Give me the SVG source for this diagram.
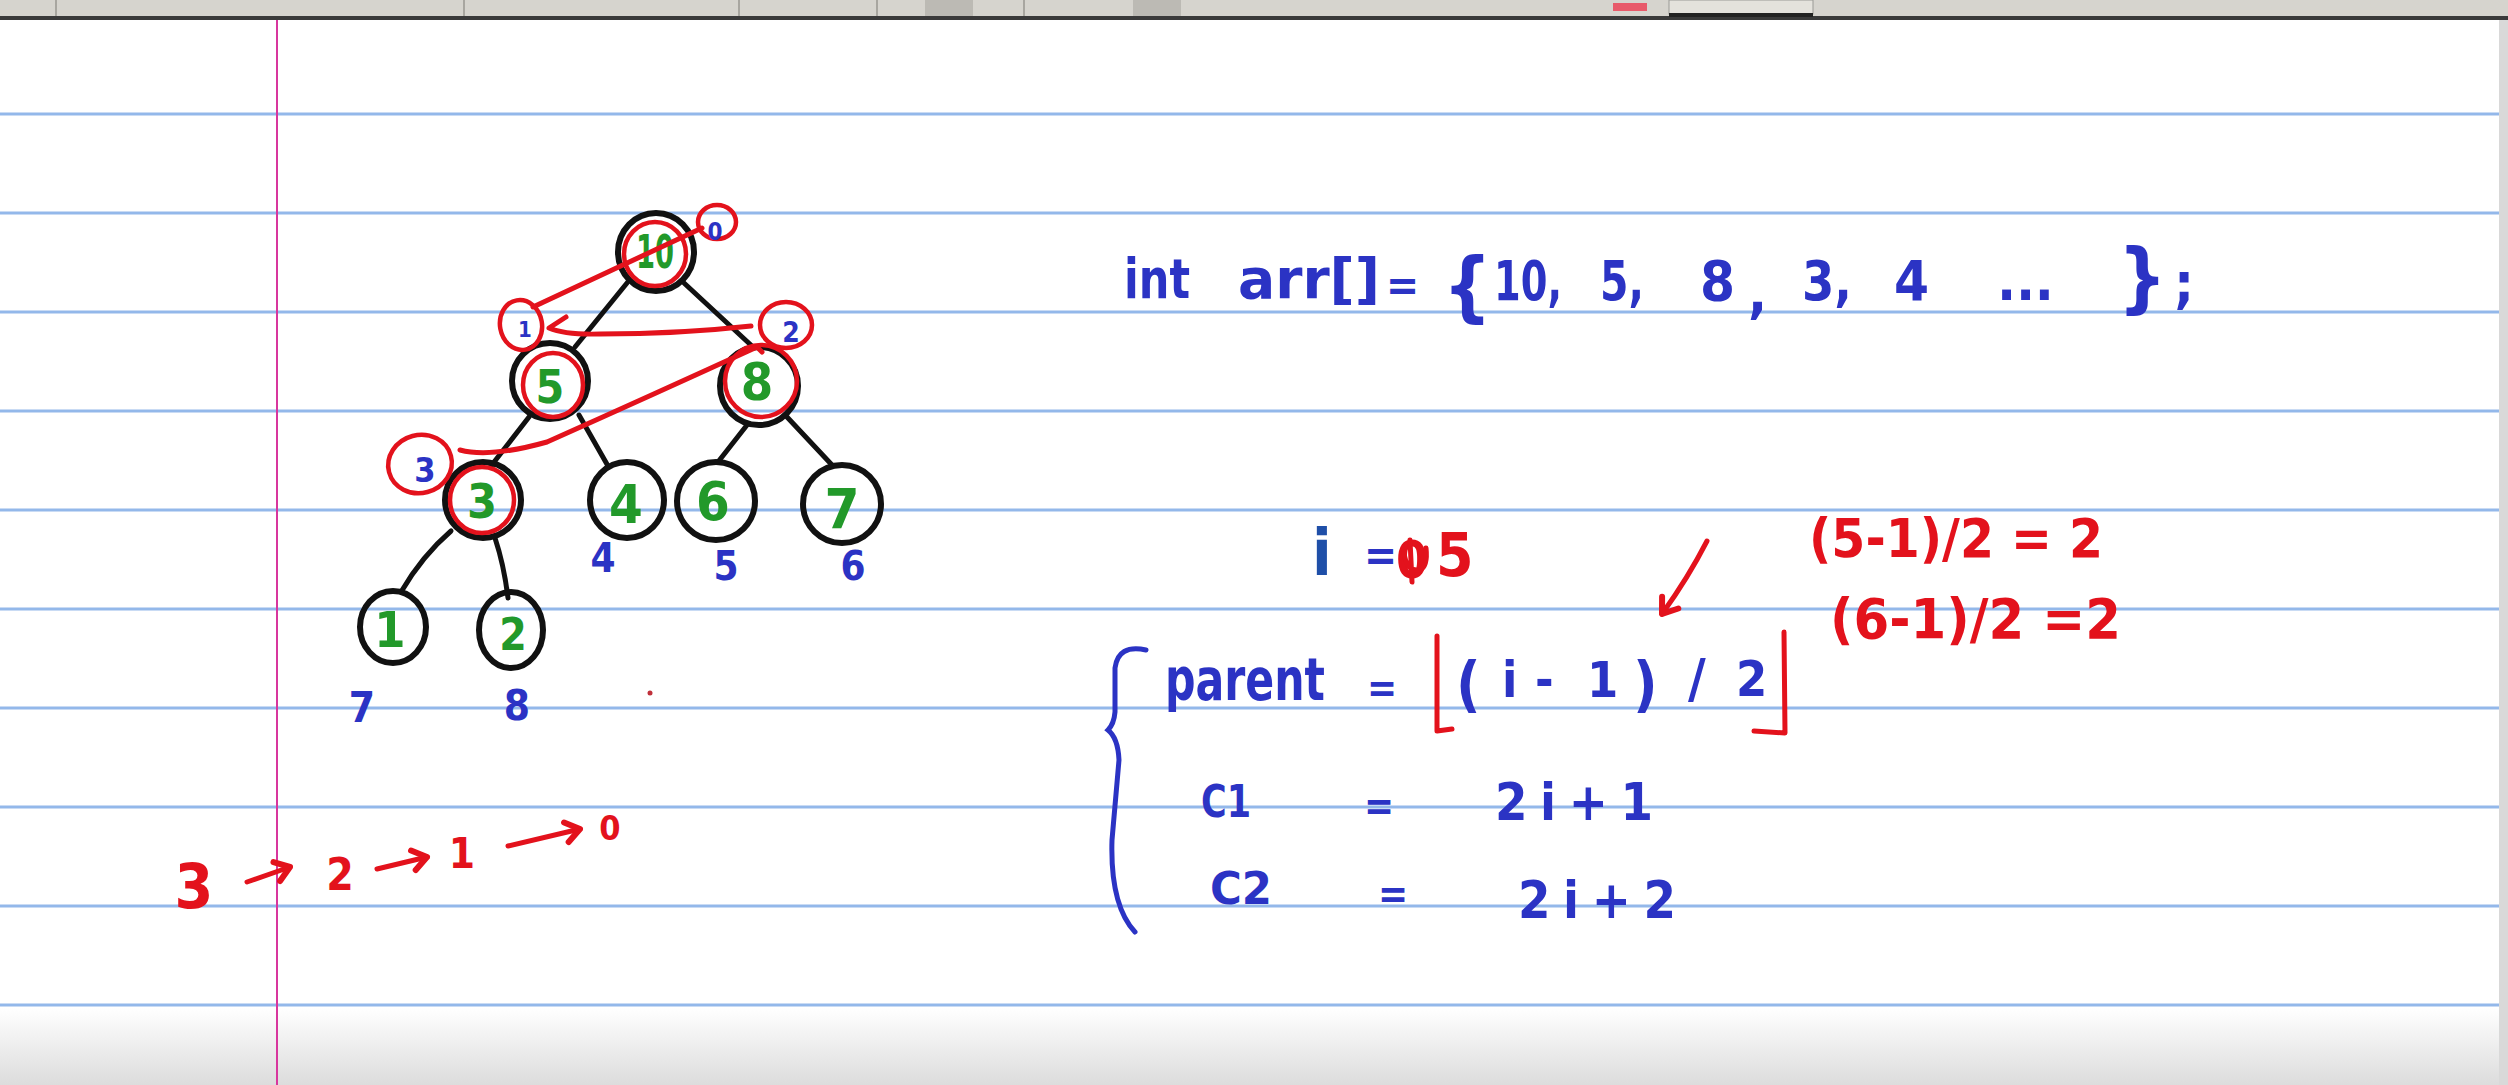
<svg xmlns="http://www.w3.org/2000/svg" width="2508" height="1085" viewBox="0 0 2508 1085">
<defs>
<linearGradient id="bottomfade" x1="0" y1="0" x2="0" y2="1">
<stop offset="0" stop-color="#ffffff"/>
<stop offset="1" stop-color="#dcdcdc"/>
</linearGradient>
<marker id="ah" markerUnits="userSpaceOnUse" markerWidth="32" markerHeight="32" refX="22" refY="14" orient="auto">
<path d="M8,4 L22,14 L8,24" fill="none" stroke="#e3121c" stroke-width="6" stroke-linecap="round" stroke-linejoin="round"/>
</marker>
</defs>
<style>
.rule{stroke:#93b8ea;stroke-width:3}
.node{fill:none;stroke:#111;stroke-width:6}
.redc{fill:none;stroke:#e3121c;stroke-width:4.5}
.edge{fill:none;stroke:#111;stroke-width:5;stroke-linecap:round}
.redl{fill:none;stroke:#e3121c;stroke-width:5;stroke-linecap:round;stroke-linejoin:round}
.bluel{fill:none;stroke:#2b33c4;stroke-width:5;stroke-linecap:round}
text{font-family:"DejaVu Sans Condensed","DejaVu Sans",sans-serif;font-weight:bold}
.g{fill:#22992a;text-anchor:middle}
.b{fill:#2b33c4}
.bm{fill:#2b33c4;text-anchor:middle}
.r{fill:#e3121c}
.rm{fill:#e3121c;text-anchor:middle}
</style>

<!-- page -->
<rect x="0" y="0" width="2508" height="1085" fill="#ffffff"/>
<rect x="0" y="1008" width="2508" height="77" fill="url(#bottomfade)"/>
<g id="ruling">
<line class="rule" x1="0" y1="114" x2="2508" y2="114"/>
<line class="rule" x1="0" y1="213" x2="2508" y2="213"/>
<line class="rule" x1="0" y1="312" x2="2508" y2="312"/>
<line class="rule" x1="0" y1="411" x2="2508" y2="411"/>
<line class="rule" x1="0" y1="510" x2="2508" y2="510"/>
<line class="rule" x1="0" y1="609" x2="2508" y2="609"/>
<line class="rule" x1="0" y1="708" x2="2508" y2="708"/>
<line class="rule" x1="0" y1="807" x2="2508" y2="807"/>
<line class="rule" x1="0" y1="906" x2="2508" y2="906"/>
<line class="rule" x1="0" y1="1005" x2="2508" y2="1005"/>
</g>
<line x1="277" y1="19" x2="277" y2="1085" stroke="#d8369e" stroke-width="2"/>
<rect x="2499" y="19" width="9" height="1066" fill="#d9d9d9"/>
<!-- toolbar -->
<g id="toolbar">
<rect x="0" y="0" width="2508" height="17" fill="#d6d4ce"/>
<rect x="0" y="16" width="2508" height="4" fill="#3a3a3a"/>
<rect x="1669" y="0" width="144" height="14" fill="#e4e2dc" stroke="#9a9a96" stroke-width="1"/>
<rect x="1669" y="13" width="144" height="4" fill="#222"/>
<rect x="1613" y="3" width="34" height="8" fill="#e85a6a"/>
<line x1="56" y1="0" x2="56" y2="16" stroke="#a8a6a0" stroke-width="2"/>
<line x1="464" y1="0" x2="464" y2="16" stroke="#a8a6a0" stroke-width="2"/>
<line x1="739" y1="0" x2="739" y2="16" stroke="#a8a6a0" stroke-width="2"/>
<line x1="877" y1="0" x2="877" y2="16" stroke="#a8a6a0" stroke-width="2"/>
<rect x="925" y="0" width="48" height="16" fill="#bcbab4"/>
<line x1="1024" y1="0" x2="1024" y2="16" stroke="#a8a6a0" stroke-width="2"/>
<rect x="1133" y="0" width="48" height="16" fill="#bcbab4"/>
</g>

<!-- connectors -->
<g id="connectors">
<path class="edge" d="M627 283 L575 347"/>
<path class="edge" d="M684 283 L753 347"/>
<path class="edge" d="M529 417 L491 466"/>
<path class="edge" d="M579 415 L608 466"/>
<path class="edge" d="M747 425 L718 462"/>
<path class="edge" d="M787 417 L832 465"/>
<path class="edge" d="M451 531 Q422 556 401 592"/>
<path class="edge" d="M495 538 Q504 565 508 598"/>
</g>

<!-- nodes -->
<g id="node-10">
<ellipse class="node" cx="656" cy="252" rx="38" ry="39"/>
<ellipse class="redc" cx="655" cy="254" rx="31" ry="32"/>
<text class="g" x="655" y="268" font-size="46" textLength="38" lengthAdjust="spacingAndGlyphs">10</text>
</g>
<g id="node-5">
<ellipse class="node" cx="550" cy="381" rx="38" ry="38"/>
<ellipse class="redc" cx="553" cy="385" rx="30" ry="32"/>
<text class="g" x="550" y="403" font-size="46">5</text>
</g>
<g id="node-8">
<ellipse class="node" cx="759" cy="386" rx="39" ry="39"/>
<ellipse class="redc" cx="761" cy="381" rx="36" ry="36"/>
<text class="g" x="757" y="400" font-size="52">8</text>
</g>
<g id="node-3">
<ellipse class="node" cx="483" cy="500" rx="38" ry="38"/>
<ellipse class="redc" cx="482" cy="500" rx="32" ry="33"/>
<text class="g" x="482" y="518" font-size="48">3</text>
</g>
<g id="node-4">
<ellipse class="node" cx="627" cy="500" rx="37" ry="38"/>
<text class="g" x="626" y="523" font-size="54">4</text>
</g>
<g id="node-6">
<ellipse class="node" cx="716" cy="501" rx="39" ry="39"/>
<text class="g" x="713" y="520" font-size="54">6</text>
</g>
<g id="node-7">
<ellipse class="node" cx="842" cy="504" rx="39" ry="39"/>
<text class="g" x="842" y="528" font-size="56">7</text>
</g>
<g id="node-1">
<ellipse class="node" cx="393" cy="627" rx="33" ry="36"/>
<text class="g" x="390" y="647" font-size="50">1</text>
</g>
<g id="node-2">
<ellipse class="node" cx="511" cy="630" rx="32" ry="38"/>
<text class="g" x="513" y="650" font-size="44">2</text>
</g>

<!-- index labels -->
<g id="index-labels">
<text class="bm" x="603" y="572" font-size="40">4</text>
<text class="bm" x="726" y="580" font-size="40">5</text>
<text class="bm" x="853" y="580" font-size="40">6</text>
<text class="bm" x="362" y="722" font-size="42">7</text>
<text class="bm" x="517" y="720" font-size="42">8</text>
</g>

<!-- red traversal annotations -->
<g id="traversal">
<ellipse class="redc" cx="717" cy="222" rx="19" ry="17"/>
<text class="bm" x="715" y="240" font-size="24">0</text>
<ellipse class="redc" cx="521" cy="325" rx="21" ry="25" transform="rotate(-10 521 325)"/>
<text class="bm" x="525" y="337" font-size="22">1</text>
<ellipse class="redc" cx="786" cy="325" rx="26" ry="23"/>
<text class="bm" x="791" y="342" font-size="28">2</text>
<ellipse class="redc" cx="420" cy="464" rx="32" ry="29" transform="rotate(-15 420 464)"/>
<text class="bm" x="425" y="482" font-size="34">3</text>
<path class="redl" d="M702 228 L533 307"/>
<path class="redl" d="M751 326 Q680 334 600 334 Q565 335 549 328 L566 317"/>
<path class="redl" d="M460 450 Q490 458 547 442 Q650 396 757 347 L762 352"/>
<circle cx="650" cy="693" r="2.5" fill="#c0303a"/>
</g>

<!-- 3 -> 2 -> 1 -> 0 -->
<g id="order">
<text class="rm" x="194" y="908" font-size="62">3</text>
<path class="redl" d="M247 882 L290 867" marker-end="url(#ah)"/>
<text class="rm" x="340" y="890" font-size="44">2</text>
<path class="redl" d="M377 869 L427 857" marker-end="url(#ah)"/>
<text class="rm" x="462" y="868" font-size="42">1</text>
<path class="redl" d="M508 846 L580 829" marker-end="url(#ah)"/>
<text class="rm" x="610" y="840" font-size="34">0</text>
</g>

<!-- array declaration -->
<g id="array">
<text class="b" x="1124" y="298" font-size="56" textLength="66" lengthAdjust="spacingAndGlyphs">int</text>
<text class="b" x="1238" y="298" font-size="56" textLength="142" lengthAdjust="spacingAndGlyphs">arr[]</text>
<text class="b" x="1386" y="300" font-size="44">=</text>
<text class="b" x="1443" y="312" font-size="76">{</text>
<text class="b" x="1494" y="300" font-size="56" textLength="68" lengthAdjust="spacingAndGlyphs">10,</text>
<text class="b" x="1600" y="300" font-size="56" textLength="44" lengthAdjust="spacingAndGlyphs">5,</text>
<text class="b" x="1700" y="300" font-size="56">8</text>
<text class="b" x="1748" y="312" font-size="56">,</text>
<text class="b" x="1802" y="300" font-size="56" textLength="50" lengthAdjust="spacingAndGlyphs">3,</text>
<text class="b" x="1894" y="300" font-size="56">4</text>
<text class="b" x="1997" y="300" font-size="56" textLength="57" lengthAdjust="spacing">...</text>
<text class="b" x="2118" y="303" font-size="76">}</text>
<text class="b" x="2174" y="302" font-size="56">;</text>
</g>

<!-- i = 5 -->
<g id="index-var">
<text x="1312" y="575" font-size="64" fill="#1f4fa8">i</text>
<text class="b" x="1364" y="570" font-size="44">=</text>
<text class="r" x="1396" y="578" font-size="52" textLength="32" lengthAdjust="spacingAndGlyphs">0</text>
<path class="redl" d="M1410 540 L1412 582 M1404 552 Q1406 572 1420 570 Q1428 566 1426 548"/>
<text class="r" x="1436" y="576" font-size="60">5</text>
<path class="redl" d="M1707 541 Q1688 578 1662 614" marker-end="url(#ah)"/>
</g>

<!-- red calculations -->
<g id="calc">
<text class="r" x="1809" y="557" font-size="54" textLength="294" lengthAdjust="spacingAndGlyphs">(5-1)/2 = 2</text>
<text class="r" x="1830" y="638" font-size="56" textLength="291" lengthAdjust="spacingAndGlyphs">(6-1)/2 =2</text>
</g>

<!-- formulas -->
<g id="formulas">
<path class="bluel" d="M1146 650 Q1118 644 1115 668 L1115 712 Q1114 724 1108 730 Q1118 738 1119 760 L1112 840 Q1110 905 1135 932"/>
<text class="b" x="1165" y="700" font-size="58" textLength="160" lengthAdjust="spacingAndGlyphs">parent</text>
<text class="b" x="1367" y="702" font-size="40">=</text>
<path class="redl" d="M1437 636 L1437 731 L1452 729"/>
<text class="b" x="1456" y="705" font-size="60">(</text>
<text class="b" x="1502" y="697" font-size="50">i</text>
<text class="b" x="1535" y="697" font-size="50">-</text>
<text class="b" x="1587" y="697" font-size="50">1</text>
<text class="b" x="1633" y="705" font-size="60">)</text>
<text class="b" x="1688" y="697" font-size="54">/</text>
<text class="b" x="1736" y="696" font-size="50">2</text>
<path class="redl" d="M1784 632 L1785 733 L1754 731"/>

<text class="b" x="1201" y="817" font-size="44" textLength="50" lengthAdjust="spacingAndGlyphs">C1</text>
<text class="b" x="1364" y="820" font-size="40">=</text>
<text class="b" x="1495" y="820" font-size="52" textLength="158" lengthAdjust="spacing">2i+1</text>
<text class="b" x="1210" y="904" font-size="44" textLength="62" lengthAdjust="spacingAndGlyphs">C2</text>
<text class="b" x="1378" y="908" font-size="40">=</text>
<text class="b" x="1518" y="918" font-size="52" textLength="158" lengthAdjust="spacing">2i+2</text>
</g>
</svg>
